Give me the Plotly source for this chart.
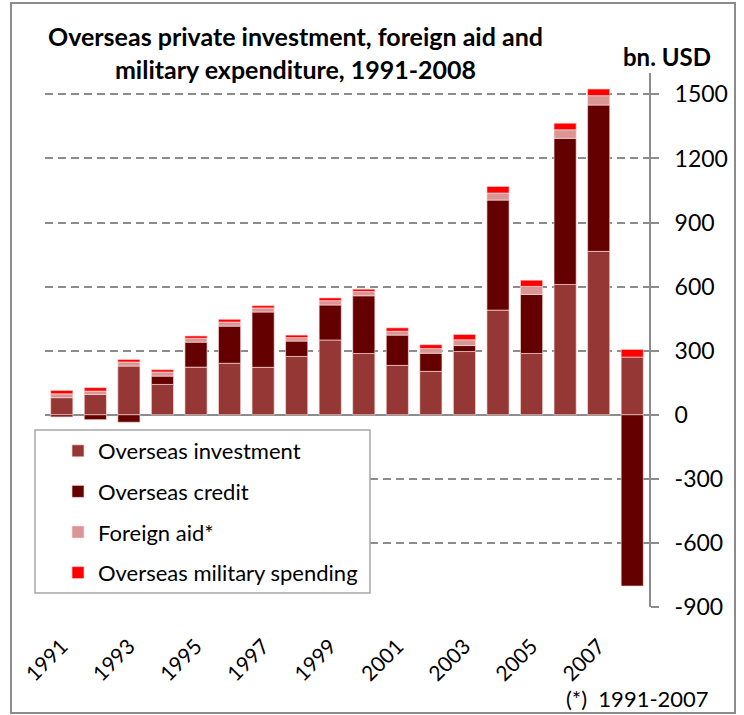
import plotly.graph_objects as go

years = [str(y) for y in range(1991, 2009)]
investment = [80, 95, 228, 142, 223, 241, 222, 273, 350, 287, 231, 203, 296, 490, 287, 610, 765, 270]
credit = [-10, -23, -35, 39, 117, 174, 259, 72, 164, 270, 142, 85, 28, 515, 276, 684, 685, -802]
aid = [18, 16, 19, 19, 18, 19, 19, 16, 20, 20, 18, 22, 27, 33, 38, 40, 44, None]
military = [16, 16, 12, 11, 11, 13, 11, 12, 13, 11, 16, 18, 25, 31, 29, 31, 31, 36]
xtick_labels = [str(y) for y in range(1991, 2008, 2)]
ytick_vals = list(range(-900, 1501, 300))
ytick_text = [str(v) for v in ytick_vals]

series = [
    ("Overseas investment", investment, "#953735"),
    ("Overseas credit", credit, "#640000"),
    ("Foreign aid*", aid, "#D99694"),
    ("Overseas military spending", military, "#FF0000"),
]

FONT = "Lato"
W, H = 744, 715
L, R, T, B = 45, 649, 73, 607


def px_x(p):
    return (p - L) / (R - L)


def px_y(p):
    return (B - p) / (B - T)


fig = go.Figure()
for i, (name, vals, col) in enumerate(series):
    fig.add_trace(go.Bar(
        x=years, y=vals, name=name, legendgroup=f"g{i}",
        marker=dict(color=col, line=dict(color="rgba(255,220,220,0.8)", width=0.8)),
        hoverinfo="skip",
    ))

fig.update_layout(
    width=W, height=H,
    margin=dict(l=L, r=W - R, t=T, b=H - B),
    paper_bgcolor="white", plot_bgcolor="white",
    barmode="relative", bargap=0.34,
    font=dict(family=FONT, size=20, color="black"),
    showlegend=True,
    legend=dict(
        x=px_x(58), y=px_y(430), xanchor="left", yanchor="top",
        bgcolor="rgba(0,0,0,0)", borderwidth=0,
        traceorder="grouped", tracegroupgap=9,
        font=dict(family=FONT, size=22),
    ),
    xaxis=dict(
        type="category", categoryorder="array", categoryarray=years,
        tickmode="array", tickvals=xtick_labels, ticktext=xtick_labels,
        tickangle=-45, showgrid=False, showline=False, ticks="",
        tickfont=dict(family=FONT, size=21), ticklabelstandoff=22,
    ),
    yaxis=dict(
        side="right", range=[-900, 1600],
        tickmode="array", tickvals=ytick_vals, ticktext=ytick_text,
        showgrid=True, gridcolor="#8c8c8c", gridwidth=1.5, griddash="8px,5px",
        showline=True, linecolor="#8c8c8c", linewidth=2,
        ticks="outside", ticklen=8, tickcolor="#8c8c8c", tickwidth=1.5,
        zeroline=True, zerolinecolor="#8c8c8c", zerolinewidth=2,
        tickfont=dict(family=FONT, size=23), ticklabelstandoff=11,
    ),
    shapes=[
        dict(type="rect", xref="paper", yref="paper",
             x0=px_x(11), x1=px_x(735), y0=px_y(713), y1=px_y(3),
             line=dict(color="#8c8c8c", width=2), fillcolor="rgba(0,0,0,0)", layer="above"),
        dict(type="rect", xref="paper", yref="paper",
             x0=px_x(35), x1=px_x(370), y0=px_y(593), y1=px_y(430),
             line=dict(color="#a6a6a6", width=1.5), fillcolor="white", layer="above"),
    ],
    annotations=[
        dict(text="<b>Overseas private investment, foreign aid and<br>military expenditure, 1991-2008</b>",
             xref="paper", yref="paper", x=px_x(295), y=px_y(52), xanchor="center", yanchor="middle",
             showarrow=False, font=dict(family=FONT, size=25, color="black")),
        dict(text="<b>bn. USD</b>", xref="paper", yref="paper", x=px_x(713), y=px_y(57),
             xanchor="right", yanchor="middle", showarrow=False,
             font=dict(family=FONT, size=24, color="black")),
        dict(text="(*)  1991-2007", xref="paper", yref="paper", x=px_x(711), y=px_y(698),
             xanchor="right", yanchor="middle", showarrow=False,
             font=dict(family=FONT, size=22, color="black")),
    ],
)

fig.write_html("out.html")
